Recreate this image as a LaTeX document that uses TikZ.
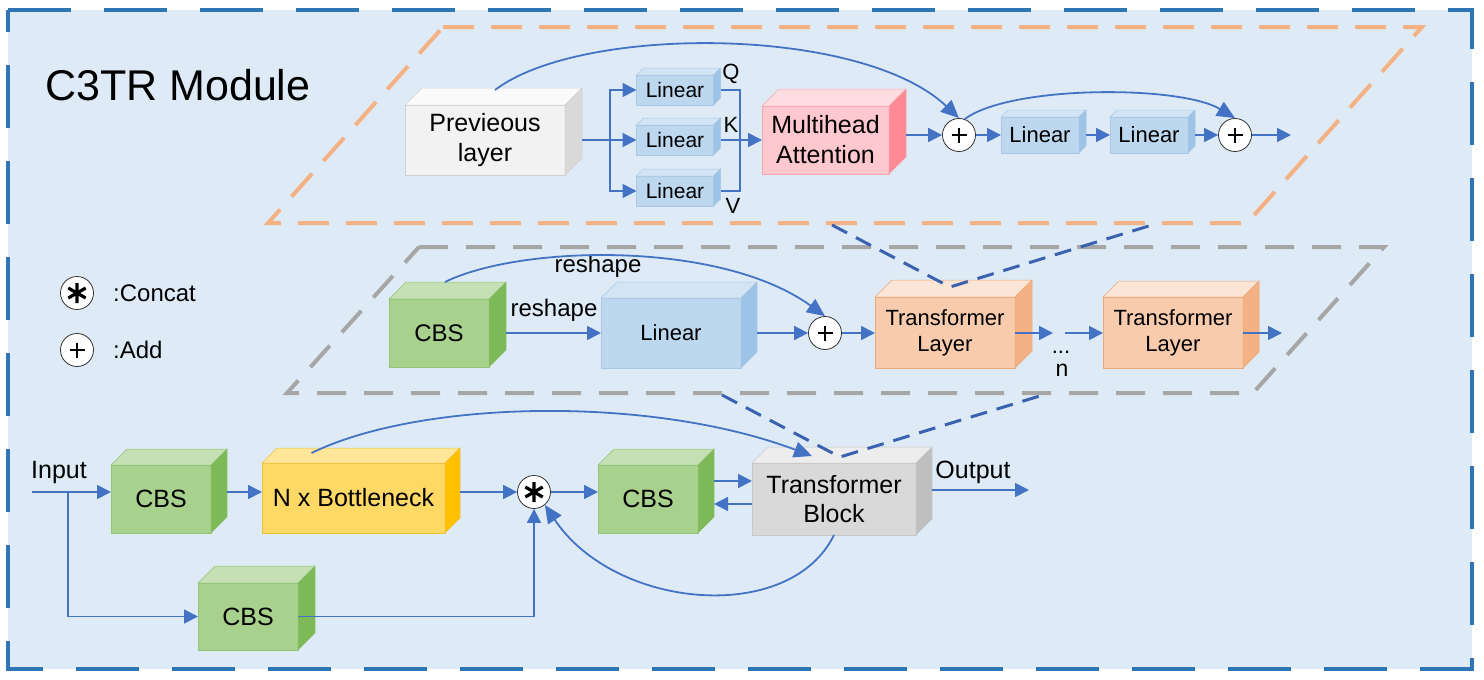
\documentclass[tikz,border=0pt]{standalone}
\usepackage{fontspec}
\setmainfont{Liberation Sans}
\usetikzlibrary{arrows.meta,calc}
\definecolor{bg}{HTML}{DEEBF7}
\definecolor{borderblue}{HTML}{2E75B6}
\definecolor{orangedash}{HTML}{F4B183}
\definecolor{graydash}{HTML}{A6A6A6}
\definecolor{cblue}{HTML}{4472C4}
\definecolor{dblue}{HTML}{3A62B0}
% box colour sets: F front, T top, S side, E edge
\definecolor{prevF}{HTML}{F2F2F2}\definecolor{prevT}{HTML}{FAFAFA}\definecolor{prevS}{HTML}{D9D9D9}\definecolor{prevE}{HTML}{D0D0D0}
\definecolor{linF}{HTML}{BDD7EE}\definecolor{linT}{HTML}{D3E4F4}\definecolor{linS}{HTML}{9DC3E6}\definecolor{linE}{HTML}{A9C8E6}
\definecolor{mhF}{HTML}{FFC7CE}\definecolor{mhT}{HTML}{FFDDE1}\definecolor{mhS}{HTML}{FF8A95}\definecolor{mhE}{HTML}{F5A8B0}
\definecolor{grF}{HTML}{A9D18E}\definecolor{grT}{HTML}{C5E0B4}\definecolor{grS}{HTML}{7DB957}\definecolor{grE}{HTML}{92C474}
\definecolor{tlF}{HTML}{F8CBAD}\definecolor{tlT}{HTML}{FBE5D6}\definecolor{tlS}{HTML}{F4B183}\definecolor{tlE}{HTML}{E9A878}
\definecolor{ylF}{HTML}{FFD966}\definecolor{ylT}{HTML}{FFE699}\definecolor{ylS}{HTML}{FFC000}\definecolor{ylE}{HTML}{F0C040}
\definecolor{tbF}{HTML}{D9D9D9}\definecolor{tbT}{HTML}{EDEDED}\definecolor{tbS}{HTML}{BFBFBF}\definecolor{tbE}{HTML}{C8C8C8}
\newcommand{\fsz}[2]{\fontsize{#1}{#2}\selectfont}
% name, cx, cy, w, h, d, colour prefix, font, text
\newcommand{\cuboid}[9]{%
  \node[cube, minimum width=#4pt, minimum height=#5pt, fill=#7F, draw=#7E, font=#8] (#1) at (#2,#3) {#9};
  \filldraw[fill=#7T, draw=#7E, line width=0.5pt] (#1.north west) -- ++(#6,-#6) -- ++(#4,0) -- (#1.north east) -- cycle;
  \filldraw[fill=#7S, draw=#7E, line width=0.5pt] (#1.north east) -- ++(#6,-#6) -- ++(0,#5) -- (#1.south east) -- cycle;
  \coordinate (#1-r) at ([xshift=#6pt]#1.east);
}
\newcommand{\plusop}[2]{%
  \node[opnode] (#1) at (#2) {};
  \draw[line width=2.2pt] ($(#1)+(-7.5,0)$) -- ($(#1)+(7.5,0)$) ($(#1)+(0,-7.5)$) -- ($(#1)+(0,7.5)$);
}
\newcommand{\catop}[2]{%
  \node[opnode] (#1) at (#2) {};
  \draw[line width=3.2pt] ($(#1)+(0,-10)$) -- ($(#1)+(0,10)$) ($(#1)+(-8.7,-5)$) -- ($(#1)+(8.7,5)$) ($(#1)+(-8.7,5)$) -- ($(#1)+(8.7,-5)$);
}
\tikzset{
  cube/.style={rectangle, inner sep=0pt, outer sep=0pt, align=center, line width=0.5pt, text=black},
  opnode/.style={circle, draw=black!80, fill=white, line width=0.8pt, minimum size=33pt, inner sep=0pt},
  ln/.style={draw=cblue, line width=1.8pt},
  arr/.style={ln, -{Triangle[length=14pt,width=14pt]}},
  arrc/.style={ln, -{Triangle[length=18pt,width=16pt]}},
  outerb/.style={draw=borderblue, line width=4pt, dash pattern=on 63pt off 33pt},
  odash/.style={draw=orangedash, line width=4pt, dash pattern=on 31pt off 17pt},
  gdash/.style={draw=graydash, line width=4pt, dash pattern=on 29pt off 18pt},
  bdash/.style={draw=dblue, line width=3pt, dash pattern=on 17pt off 10pt},
  lbl/.style={inner sep=0pt, text=black}
}
\begin{document}
\begin{tikzpicture}[x=1pt,y=-1pt]
\useasboundingbox (0,0) rectangle (1484,680);
% background and frames
\fill[bg] (8,10) rectangle (1472,669);
\draw[outerb] (8,10) -- (1472,10) -- (1472,669) -- (8,669) -- cycle;
\draw[odash] (443,27) -- (1422,27) -- (1247,223) -- (268,223) -- cycle;
\draw[gdash] (419,247) -- (1384,247) -- (1253,393) -- (287,393) -- cycle;

% title and legend
\node[lbl, anchor=west, font=\fsz{43}{50}] (title) at (45,85) {C3TR Module};
\catop{lgc}{77,293}
\node[lbl, anchor=west, font=\fsz{24}{28}] (lgct) at (113,293) {:Concat};
\plusop{lga}{77,350}
\node[lbl, anchor=west, font=\fsz{24}{28}] (lgat) at (113,350) {:Add};

% ---------- top row (transformer layer) ----------
\cuboid{prev}{485}{140}{160}{70}{17}{prev}{\fsz{25}{30}}{Previeous\\layer}
\cuboid{lq}{675}{90}{77}{30}{7}{lin}{\fsz{21}{24}}{Linear}
\cuboid{lk}{675}{140}{77}{30}{7}{lin}{\fsz{21}{24}}{Linear}
\cuboid{lv}{675}{191}{77}{30}{7}{lin}{\fsz{21}{24}}{Linear}
\cuboid{mh}{825.5}{140}{127}{68}{17}{mh}{\fsz{25}{30}}{Multihead\\Attention}
\plusop{p1}{959,135}
\cuboid{l2}{1040}{135}{78}{36}{7}{lin}{\fsz{22}{24}}{Linear}
\cuboid{l3}{1149}{135}{78}{36}{7}{lin}{\fsz{22}{24}}{Linear}
\plusop{p2}{1235,135}
\node[lbl, font=\fsz{22}{24}] (tq) at (731,74) {Q};
\node[lbl, font=\fsz{22}{24}] (tk) at (731,125) {K};
\node[lbl, font=\fsz{22}{24}] (tv) at (733,206) {V};

\coordinate (br) at (610,140);
\coordinate (mg) at (740,140);
\coordinate (o1) at (1291,135);
\draw[ln] (prev-r) -- (br);
\draw[arr] (br) |- (lq.west);
\draw[arr] (br) -- (lk.west);
\draw[arr] (br) |- (lv.west);
\draw[ln] (lq-r) -| (mg) |- (lv-r);
\draw[arr] (lk-r) -- (lk-r -| mh.west);
\draw[arr] (mh-r |- p1) -- (p1.west);
\draw[arr] (p1.east) -- (l2.west);
\draw[arr] (l2-r) -- (l3.west);
\draw[arr] (l3-r) -- (p2.west);
\draw[arr] (p2.east) -- (o1);
\draw[arrc] ($(prev.north)+(10,-15)$) .. controls (580,25) and (860,25) .. (p1.north);
\draw[arrc] (p1.70) .. controls (1010,85) and (1180,85) .. (p2.north);

% ---------- middle row (transformer block) ----------
\cuboid{cbsm}{439}{333}{100}{68}{17}{gr}{\fsz{24}{28}}{CBS}
\cuboid{lin}{671}{333}{140}{70}{16}{lin}{\fsz{22}{24}}{Linear}
\plusop{p3}{825,333}
\cuboid{tl1}{945}{332.5}{140}{71}{17}{tl}{\fsz{22}{26}}{Transformer\\Layer}
\cuboid{tl2}{1173}{332.5}{140}{71}{16}{tl}{\fsz{22}{26}}{Transformer\\Layer}
\node[lbl, font=\fsz{24}{28}] (rs1) at (554,310) {reshape};
\node[lbl, font=\fsz{24}{28}] (rs2) at (598,266) {reshape};
\node[lbl, anchor=base, font=\fsz{22}{26}] (dots) at (1061,353) {...};
\node[lbl, anchor=base, font=\fsz{23}{26}] (nn) at (1062,376) {n};
\coordinate (d1) at (1053,333);
\coordinate (d2) at (1065,333);
\coordinate (o2) at (1282,333);
\draw[arr] (cbsm-r) -- (lin.west);
\draw[arr] (lin-r) -- (p3.west);
\draw[arr] (p3.east) -- (p3.east -| tl1.west);
\draw[arr] (tl1.east |- d1) -- (d1);
\draw[arr] (d2) -- (d2 -| tl2.west);
\draw[arr] (tl2.east |- o2) -- (o2);
\draw[arrc] ($(cbsm.north)+(6,-17)$) .. controls (520,245) and (720,240) .. (p3.north);

% ---------- bottom row (C3TR) ----------
\cuboid{cbs1}{161}{499}{100}{68}{16}{gr}{\fsz{25}{30}}{CBS}
\cuboid{bn}{353.5}{498}{183}{70}{15}{yl}{\fsz{25}{30}}{N x Bottleneck}
\cuboid{cbsb}{248}{616.5}{100}{67}{17}{gr}{\fsz{25}{30}}{CBS}
\catop{cc}{534,492}
\cuboid{cbs3}{648}{499}{100}{68}{16}{gr}{\fsz{25}{30}}{CBS}
\cuboid{tb}{834}{499}{164}{72}{16}{tb}{\fsz{25}{29}}{Transformer\\Block}
\node[lbl, font=\fsz{25}{30}] (inl) at (59,472) {Input};
\node[lbl, font=\fsz{25}{30}] (outl) at (973,472) {Output};
\coordinate (inp) at (32,492);
\coordinate (ib) at (68,492);
\coordinate (o3) at (1029,490);
\draw[arr] (inp) -- (inp -| cbs1.west);
\draw[arr] (ib) |- (cbsb.west);
\draw[arr] (cbs1-r |- inp) -- (bn.west |- inp);
\draw[arr] (bn-r |- inp) -- (cc.west);
\draw[arr] (cbsb.east) -| (cc.south);
\draw[arr] (cc.east) -- (cc.east -| cbs3.west);
\draw[arr] ($(cbs3-r)+(0,-18)$) -- ($(tb.west)+(0,-18)$);
\draw[arr] ($(tb.west)+(0,5)$) -- ($(cbs3-r)+(0,5)$);
\draw[arr] ($(tb-r)+(0,-9)$) -- (o3);
\draw[arrc] ($(bn.north)+(-42,-10)$) .. controls (420,400) and (650,395) .. ($(tb.north)+(-22,-7)$);
\draw[arrc] (tb.south) .. controls (790,625) and (615,610) .. (cc.-50);

% ---------- dashed zoom lines ----------
\coordinate (oa) at (832,225);
\coordinate (ob) at (1152,225);
\coordinate (ga) at (722,395);
\coordinate (gb) at (1043,395);
\draw[bdash] (oa) -- ($(tl1.north)+(5,-10)$) -- (ob);
\draw[bdash] (ga) -- ($(tb.north)+(6,-6)$) -- (gb);
\end{tikzpicture}
\end{document}
